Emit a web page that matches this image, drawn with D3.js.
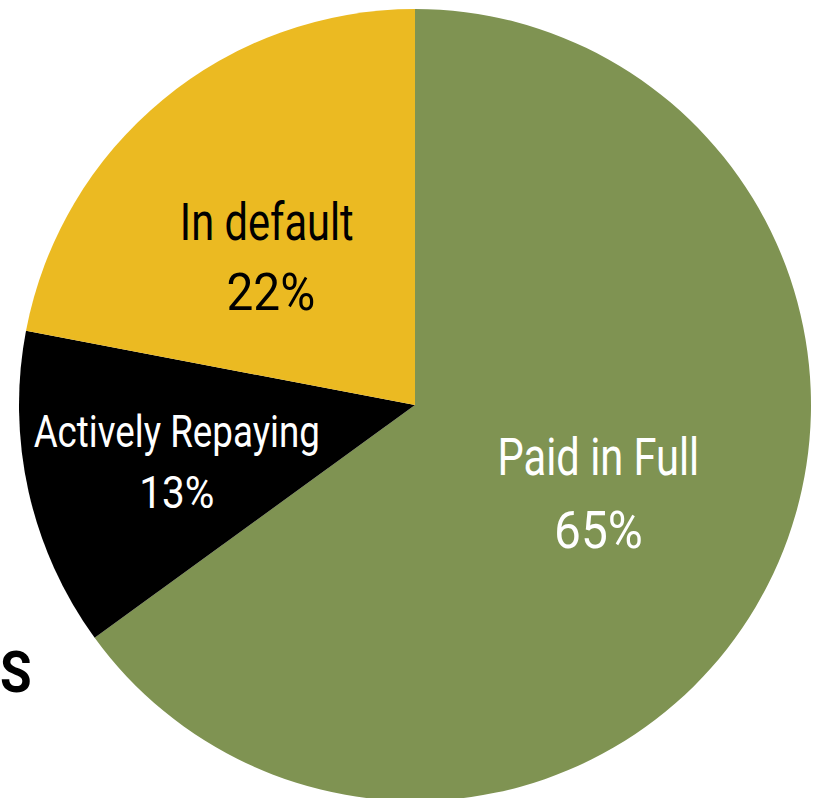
<!DOCTYPE html>
<html>
<head>
<meta charset="utf-8">
<script src="https://cdn.jsdelivr.net/npm/d3@7"></script>
<style>
  html, body { margin: 0; padding: 0; background: #fff; }
  svg { display: block; }
</style>
</head>
<body>
<svg id="chart" width="819" height="798"></svg>
<script>
// Loan status breakdown
const categories = ["Paid in Full", "Actively Repaying", "In default"];
const shares = [65, 13, 22];
const sliceColors = ["#7F9352", "#000000", "#EBBA22"];
const labelColors = ["#ffffff", "#ffffff", "#000000"];

// Label layout: font size, line gap, nudge from the slice centroid
const labelSizes = [52, 44, 52];
const lineGaps = [73, 60.5, 70];
const labelNudges = [[7, -2], [-45, 13.5], [-22, 4]];
const pctShift = [0, 0, 4];               // figures sit slightly right of the name
const nameSqueeze = [0.8, 0.835, 0.8];   // condensed type for the names
const pctSqueeze = 0.92;                  // figures run a little wider

const width = 819, height = 798;
const cx = 415, cy = 405, radius = 396;

const svg = d3.select("#chart");
const g = svg.append("g").attr("transform", `translate(${cx},${cy})`);

const pie = d3.pie().sort(null).value(d => d)(shares);
const arc = d3.arc().innerRadius(0).outerRadius(radius);
const labelArc = d3.arc().innerRadius(radius * 0.5).outerRadius(radius * 0.5);

g.selectAll("path.slice")
  .data(pie)
  .join("path")
  .attr("class", "slice")
  .attr("d", arc)
  .attr("fill", (d, i) => sliceColors[i]);

const labels = g.selectAll("g.label")
  .data(pie)
  .join("g")
  .attr("class", "label")
  .attr("transform", (d, i) => {
    const [x, y] = labelArc.centroid(d);
    return `translate(${x + labelNudges[i][0]},${y + labelNudges[i][1]})`;
  });

labels.each(function(d, i) {
  const sel = d3.select(this);
  const fs = labelSizes[i];
  const cap = fs * 0.711;
  const gap = lineGaps[i];
  // block spans from top of first line to baseline of second line
  const top = -(cap + gap) / 2;
  const lines = [
    { t: categories[i], s: nameSqueeze[i], dx: 0 },
    { t: `${shares[i]}%`, s: pctSqueeze, dx: pctShift[i] }
  ];
  lines.forEach((ln, k) => {
    sel.append("text")
      .attr("text-anchor", "middle")
      .attr("transform", `translate(${ln.dx},${top + cap + k * gap}) scale(${ln.s},1)`)
      .attr("font-family", "Roboto, 'Liberation Sans', sans-serif")
      .attr("font-size", fs)
      .attr("fill", labelColors[i])
      .text(ln.t);
  });
});

// trailing letter of the title at the left edge
svg.append("text")
  .attr("transform", "translate(0,692) scale(0.9,1)")
  .attr("text-anchor", "start")
  .attr("font-family", "Roboto, 'Liberation Sans', sans-serif")
  .attr("font-weight", "bold")
  .attr("font-size", 57)
  .attr("fill", "#000")
  .text("S");
</script>
</body>
</html>
